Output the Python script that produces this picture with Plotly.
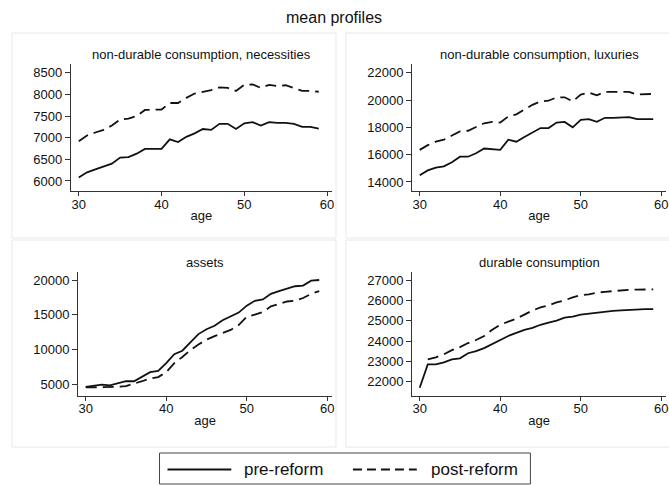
import plotly.graph_objects as go

ages = list(range(30, 60))

nec_pre = [6080, 6200, 6270, 6330, 6400, 6540, 6550, 6630, 6740, 6740,
           6740, 6960, 6900, 7020, 7100, 7200, 7180, 7320, 7320, 7200,
           7330, 7360, 7280, 7360, 7340, 7340, 7320, 7250, 7250, 7210]
nec_post = [6920, 7050, 7120, 7180, 7280, 7420, 7440, 7500, 7640, 7650,
            7650, 7800, 7800, 7920, 8020, 8060, 8100, 8160, 8150, 8080,
            8220, 8230, 8150, 8220, 8190, 8210, 8150, 8080, 8080, 8060]

lux_pre = [14500, 14850, 15050, 15150, 15450, 15850, 15850, 16100, 16450, 16400,
           16350, 17100, 16950, 17300, 17650, 17950, 17950, 18350, 18400, 18000,
           18550, 18600, 18400, 18700, 18700, 18750, 18750, 18600, 18600, 18600]
lux_post = [16350, 16700, 16950, 17100, 17400, 17700, 17750, 18000, 18300, 18400,
            18350, 18800, 18950, 19300, 19650, 19900, 19950, 20200, 20200, 19900,
            20400, 20550, 20350, 20600, 20600, 20650, 20600, 20400, 20450, 20450]

ast_pre = [4600, 4700, 4900, 4800, 5100, 5400, 5400, 6100, 6700, 6900,
           8000, 9300, 9800, 11000, 12200, 12900, 13400, 14200, 14700, 15300,
           16300, 17000, 17200, 18000, 18400, 18700, 19100, 19200, 19900, 20000]
ast_post = [4500, 4500, 4500, 4500, 4600, 4700, 5000, 5400, 5800, 6000,
            6700, 8000, 8900, 9900, 10700, 11400, 11900, 12400, 12800, 13500,
            14700, 15000, 15400, 16200, 16500, 16900, 17000, 17400, 18000, 18400]

dur_pre = [21700, 22850, 22850, 22950, 23100, 23150, 23400, 23500, 23650, 23850,
           24050, 24250, 24400, 24550, 24650, 24800, 24900, 25000, 25150, 25200,
           25300, 25350, 25400, 25450, 25480, 25510, 25540, 25560, 25570, 25570]
dur_post = [None, 23100, 23200, 23350, 23550, 23700, 23900, 24050, 24250, 24550,
            24800, 24950, 25100, 25300, 25500, 25650, 25750, 25900, 26000, 26150,
            26250, 26300, 26380, 26420, 26460, 26490, 26520, 26530, 26540, 26540]

titles = ["non-durable consumption, necessities", "non-durable consumption, luxuries",
          "assets", "durable consumption"]
x_ticks = [30, 40, 50, 60]
y_ticks = [[6000, 6500, 7000, 7500, 8000, 8500],
           [14000, 16000, 18000, 20000, 22000],
           [5000, 10000, 15000, 20000],
           [22000, 23000, 24000, 25000, 26000, 27000]]
legend_labels = ["pre-reform", "post-reform"]

W, H = 669, 485
FONT = "Arial, Liberation Sans, sans-serif"
INK = "#111111"
AX = "#333333"

# layout geometry (pixels)
panels = [
    dict(pre=nec_pre, post=nec_post, xpx=(71.1, 333.0), ypx=(191.0, 64.3), yr=(5769, 8694)),
    dict(pre=lux_pre, post=lux_post, xpx=(413.3, 668.1), ypx=(191.0, 64.3), yr=(13340, 22617)),
    dict(pre=ast_pre, post=ast_post, xpx=(78.3, 333.1), ypx=(395.7, 271.7), yr=(3313, 21200)),
    dict(pre=dur_pre, post=dur_post, xpx=(413.3, 668.1), ypx=(395.7, 271.7), yr=(21311, 27410)),
]

fig = go.Figure()
layout = dict(
    width=W, height=H, margin=dict(l=0, r=0, t=0, b=0),
    paper_bgcolor="white", plot_bgcolor="white",
    font=dict(family=FONT, color=INK, size=13),
    showlegend=False,
)
annotations = []
shapes = []

for i, p in enumerate(panels):
    n = i + 1
    xa = "x" if n == 1 else f"x{n}"
    ya = "y" if n == 1 else f"y{n}"
    fig.add_trace(go.Scatter(x=ages, y=p["pre"], mode="lines", xaxis=xa, yaxis=ya,
                             line=dict(color=INK, width=1.8), name=legend_labels[0]))
    fig.add_trace(go.Scatter(x=ages, y=p["post"], mode="lines", xaxis=xa, yaxis=ya,
                             line=dict(color=INK, width=1.8, dash="11px,6px"),
                             name=legend_labels[1]))
    xd = [p["xpx"][0] / W, p["xpx"][1] / W]
    yd = [1 - p["ypx"][0] / H, 1 - p["ypx"][1] / H]
    layout["xaxis" if n == 1 else f"xaxis{n}"] = dict(
        domain=xd, anchor=ya, range=[29.05, 60.6],
        tickvals=x_ticks, ticktext=[str(v) for v in x_ticks],
        showline=True, linecolor=AX, linewidth=1, ticks="outside", ticklen=4,
        tickcolor=AX, showgrid=False, zeroline=False, ticklabelstandoff=-3,
        tickfont=dict(size=13, color=INK),
        title=dict(text="age", font=dict(size=13, color=INK), standoff=0),
    )
    layout["yaxis" if n == 1 else f"yaxis{n}"] = dict(
        domain=yd, anchor=xa, range=list(p["yr"]),
        tickvals=y_ticks[i], ticktext=[str(v) for v in y_ticks[i]],
        showline=True, linecolor=AX, linewidth=1, ticks="outside", ticklen=5,
        tickcolor=AX, showgrid=False, zeroline=False,
        tickfont=dict(size=13, color=INK),
    )
    cx = (p["xpx"][0] + p["xpx"][1]) / 2 / W
    ty = p["ypx"][1] - 9.5
    annotations.append(dict(text=titles[i], x=cx, y=1 - ty / H, xref="paper", yref="paper",
                            xanchor="center", yanchor="middle", showarrow=False,
                            font=dict(size=13, color=INK)))

# panel frames
for (x0, y0, x1, y1) in [(12, 33, 337, 238), (347, 33, 690, 238),
                         (12, 240, 337, 447), (347, 240, 690, 447)]:
    shapes.append(dict(type="rect", xref="paper", yref="paper",
                       x0=x0 / W, x1=x1 / W, y0=1 - y1 / H, y1=1 - y0 / H,
                       line=dict(color="#e8e8e8", width=1), fillcolor="rgba(0,0,0,0)",
                       layer="below"))

# main title
annotations.append(dict(text="mean profiles", x=334.5 / W, y=1 - 18 / H, xref="paper",
                        yref="paper", xanchor="center", yanchor="middle", showarrow=False,
                        font=dict(size=16, color=INK)))

# legend box (drawn)
shapes.append(dict(type="rect", xref="paper", yref="paper",
                   x0=160 / W, x1=532 / W, y0=1 - 484 / H, y1=1 - 453 / H,
                   line=dict(color="#444444", width=1), fillcolor="white"))
shapes.append(dict(type="line", xref="paper", yref="paper",
                   x0=168 / W, x1=232 / W, y0=1 - 469.5 / H, y1=1 - 469.5 / H,
                   line=dict(color=INK, width=1.8)))
shapes.append(dict(type="line", xref="paper", yref="paper",
                   x0=354 / W, x1=418 / W, y0=1 - 469.5 / H, y1=1 - 469.5 / H,
                   line=dict(color=INK, width=1.8, dash="9px,5px")))
annotations.append(dict(text=legend_labels[0], x=243 / W, y=1 - 469.5 / H, xref="paper",
                        yref="paper", xanchor="left", yanchor="middle", showarrow=False,
                        font=dict(size=17, color=INK)))
annotations.append(dict(text=legend_labels[1], x=430 / W, y=1 - 469.5 / H, xref="paper",
                        yref="paper", xanchor="left", yanchor="middle", showarrow=False,
                        font=dict(size=17, color=INK)))

layout["annotations"] = annotations
layout["shapes"] = shapes
fig.update_layout(**layout)
fig.write_html("out.html", config={"displayModeBar": False},
               post_script="document.body.style.margin='0';document.body.style.overflow='hidden';")
